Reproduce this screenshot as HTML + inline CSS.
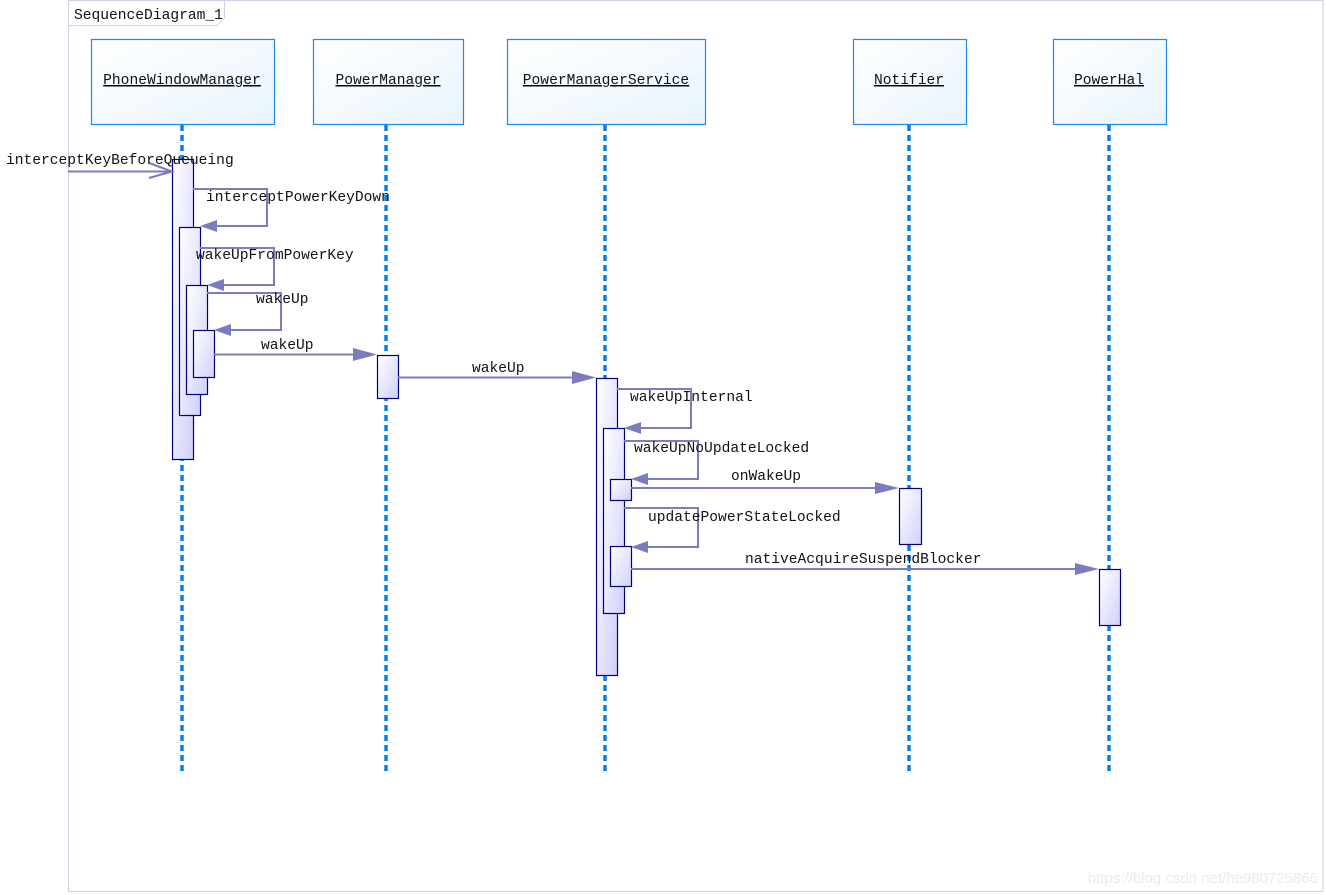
<!DOCTYPE html>
<html><head><meta charset="utf-8"><style>
html,body{margin:0;padding:0;background:#fff;width:1326px;height:895px;overflow:hidden}
text{font-family:"Liberation Mono","DejaVu Sans Mono",monospace;font-size:14.6px;fill:#111}
</style></head><body>
<svg width="1326" height="895" xmlns="http://www.w3.org/2000/svg">
<defs>
<linearGradient id="hd" x1="0" y1="0" x2="1" y2="1"><stop offset="0" stop-color="#ffffff"/><stop offset="1" stop-color="#e8f4fd"/></linearGradient>
<linearGradient id="ac" x1="0" y1="0" x2="1" y2="1"><stop offset="0" stop-color="#ffffff"/><stop offset="1" stop-color="#d0d0fa"/></linearGradient>
</defs>
<rect x="68.5" y="0.5" width="1254.5" height="891" fill="#fff" stroke="#d0d0e8"/>
<path d="M68.5 25.5 H217 L224.5 18 V0.5" fill="none" stroke="#d0d0e8"/>
<text x="74" y="19">SequenceDiagram_1</text>

<g fill="url(#hd)" stroke="#1e88f0" stroke-width="1.2">
<rect x="91.5" y="39.5" width="183" height="85"/>
<rect x="313.5" y="39.5" width="150" height="85"/>
<rect x="507.5" y="39.5" width="198" height="85"/>
<rect x="853.5" y="39.5" width="113" height="85"/>
<rect x="1053.5" y="39.5" width="113" height="85"/>
</g>
<g text-anchor="middle" text-decoration="underline">
<text x="182" y="84">PhoneWindowManager</text>
<text x="388" y="84">PowerManager</text>
<text x="606" y="84">PowerManagerService</text>
<text x="909" y="84">Notifier</text>
<text x="1109" y="84">PowerHal</text>
</g>
<g stroke="#0a7cf0" stroke-width="3.5" stroke-dasharray="6,4">
<line x1="182" y1="125" x2="182" y2="775"/>
<line x1="386" y1="125" x2="386" y2="775"/>
<line x1="605" y1="125" x2="605" y2="775"/>
<line x1="909" y1="125" x2="909" y2="775"/>
<line x1="1109" y1="125" x2="1109" y2="775"/>
</g>

<g fill="url(#ac)" stroke="#000080" stroke-width="1.2">
<rect x="172.5" y="159.5" width="21" height="300"/>
<rect x="179.5" y="227.5" width="21" height="188"/>
<rect x="186.5" y="285.5" width="21" height="109"/>
<rect x="193.5" y="330.5" width="21" height="47"/>
<rect x="377.5" y="355.5" width="21" height="43"/>
<rect x="596.5" y="378.5" width="21" height="297"/>
<rect x="603.5" y="428.5" width="21" height="185"/>
<rect x="610.5" y="479.5" width="21" height="21"/>
<rect x="610.5" y="546.5" width="21" height="40"/>
<rect x="899.5" y="488.5" width="22" height="56"/>
<rect x="1099.5" y="569.5" width="21" height="56"/>
</g>

<g fill="none" stroke="#7b7bc0" stroke-width="2">
<line x1="68" y1="171.5" x2="172" y2="171.5"/>
<polyline points="149,163 172,171.5 149,178"/>
<polyline points="193,189 267,189 267,226 210,226"/>
<polyline points="200,248 274,248 274,285 218,285"/>
<polyline points="207,293 281,293 281,330 225,330"/>
<line x1="214" y1="354.5" x2="360" y2="354.5"/>
<line x1="398" y1="377.5" x2="580" y2="377.5"/>
<polyline points="617,389 691,389 691,428 637,428"/>
<polyline points="624,441 698,441 698,479 644,479"/>
<line x1="631" y1="488" x2="882" y2="488"/>
<polyline points="624,508 698,508 698,547 644,547"/>
<line x1="631" y1="569" x2="1082" y2="569"/>
</g>
<g fill="#7b7bc0">
<polygon points="200,226 217,220 217,232"/>
<polygon points="207,285 224,279 224,291"/>
<polygon points="214,330 231,324 231,336"/>
<polygon points="377,354.5 353,348 353,361"/>
<polygon points="596,377.5 572,371 572,384"/>
<polygon points="624,428 641,422 641,434"/>
<polygon points="631,479 648,473 648,485"/>
<polygon points="899,488 875,482 875,494"/>
<polygon points="631,547 648,541 648,553"/>
<polygon points="1099,569 1075,563 1075,575"/>
</g>

<text x="6" y="164">interceptKeyBeforeQueueing</text>
<text x="206" y="201">interceptPowerKeyDown</text>
<text x="196" y="259">wakeUpFromPowerKey</text>
<text x="256" y="303">wakeUp</text>
<text x="261" y="349">wakeUp</text>
<text x="472" y="372">wakeUp</text>
<text x="630" y="401">wakeUpInternal</text>
<text x="634" y="452">wakeUpNoUpdateLocked</text>
<text x="731" y="480">onWakeUp</text>
<text x="648" y="521">updatePowerStateLocked</text>
<text x="745" y="563">nativeAcquireSuspendBlocker</text>
<text x="1318" y="883" text-anchor="end" style="font-family:'Liberation Sans',sans-serif;font-size:15px;fill:#ebebeb">https://blog.csdn.net/he980725866</text>
</svg>
</body></html>
